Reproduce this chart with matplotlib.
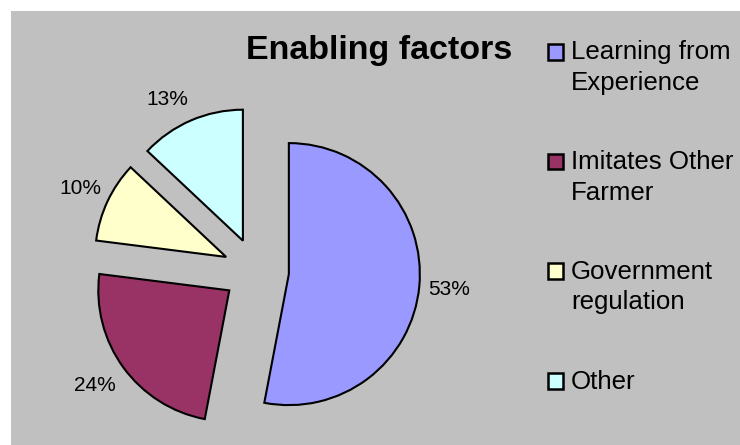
import matplotlib
matplotlib.use("Agg")
import matplotlib.pyplot as plt
from matplotlib.patches import Rectangle

plt.rcParams['font.family'] = ['Liberation Sans', 'DejaVu Sans']

# Data
categories = ["Learning from\nExperience", "Imitates Other\nFarmer",
              "Government\nregulation", "Other"]
shares = [53, 24, 10, 13]
colors = ["#9999FF", "#993366", "#FFFFCC", "#CCFFFF"]
title = "Enabling factors"

W, H = 740, 445
fig = plt.figure(figsize=(W / 100, H / 100), dpi=100)
fig.patch.set_facecolor("white")
ax = fig.add_axes([0, 0, 1, 1])

# Grey chart area
ax.add_patch(Rectangle((11, 0), W - 11, H - 11, facecolor="#C0C0C0",
                       edgecolor="none", zorder=0))

radius = 131
wedges, texts, autotexts = ax.pie(
    shares, colors=colors, startangle=90, counterclock=False,
    center=(256, H - 271), radius=radius, explode=[33] * len(shares),
    autopct=lambda p: f"{p:.0f}%", pctdistance=1.23,
    wedgeprops=dict(edgecolor="black", linewidth=1.5),
    textprops=dict(fontsize=15, color="black"), frame=True)

# Nudge the small-slice labels slightly outward/left
px, py = autotexts[3].get_position()
autotexts[3].set_position((px - 12, py - 7))
px, py = autotexts[1].get_position()
autotexts[1].set_position((px - 4, py))

ax.set_xlim(0, W)
ax.set_ylim(0, H)
ax.set_aspect("auto")
ax.axis("off")

# Title
ax.text(379, H - 59.5, title, fontsize=24.5, fontweight="bold",
        ha="center", va="baseline")

# Legend
for i, (lab, col) in enumerate(zip(categories, colors)):
    base = 59.5 + i * 109.7
    ax.add_patch(Rectangle((548, H - base), 15, 15.5, facecolor=col,
                           edgecolor="black", linewidth=1.8, zorder=3))
    for j, line in enumerate(lab.split("\n")):
        ax.text(571, H - (base + j * 30.5), line, fontsize=18.6,
                ha="left", va="baseline")

fig.savefig("out.png", dpi=100, facecolor=fig.get_facecolor())
